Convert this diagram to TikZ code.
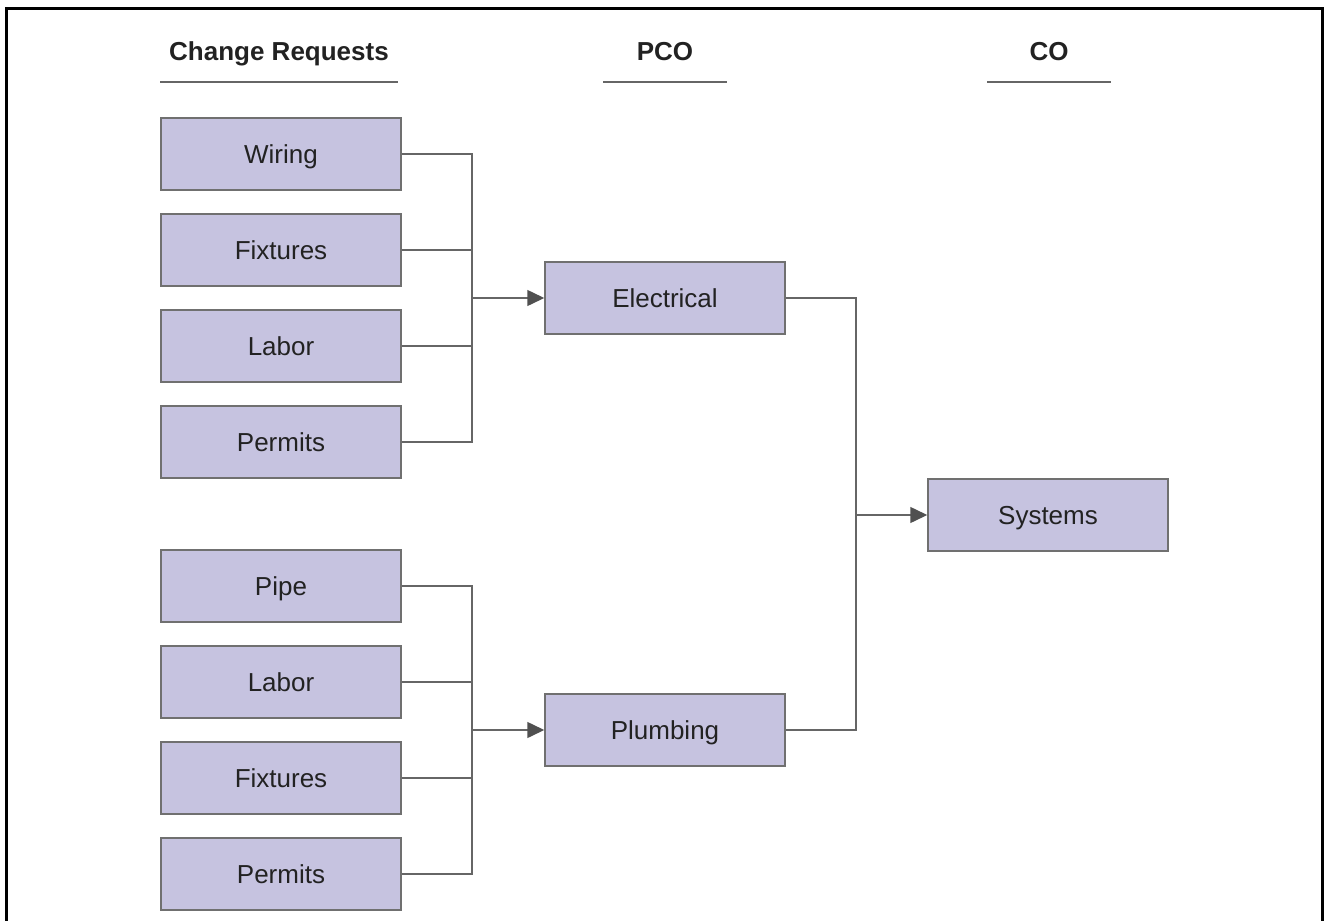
\documentclass[tikz,border=0pt]{standalone}
\usepackage{fontspec}
\setmainfont{Liberation Sans}
\usetikzlibrary{arrows.meta}
\definecolor{boxfill}{HTML}{C6C3E0}
\definecolor{boxline}{HTML}{707070}
\definecolor{conn}{HTML}{666666}
\definecolor{tip}{HTML}{505050}
\definecolor{txt}{HTML}{222222}
\tikzset{
  crbox/.style={rectangle, draw=boxline, line width=1.5pt, fill=boxfill,
    minimum width=240pt, minimum height=72pt, inner sep=0pt,
    text height=18.6pt, text depth=0pt,
    font=\fontsize{26}{31}\selectfont, text=txt},
  head/.style={font=\bfseries\fontsize{26}{31}\selectfont, text=txt, inner sep=0pt,
    text height=18.6pt, text depth=0pt},
  conline/.style={draw=conn, line width=1.5pt},
  conarrow/.style={draw=conn, line width=1.5pt, -{Triangle[length=17pt,width=16pt,fill=tip,color=tip]}},
  rule/.style={draw=conn, line width=1.5pt}
}
\begin{document}
\begin{tikzpicture}[x=1pt,y=-1pt]
\useasboundingbox (0,0) rectangle (1326,921);
\draw[line width=3pt] (6,921) -- (6,8) -- (1322,8) -- (1322,921);
% headers
\node[head] (h1) at (279,51) {Change Requests};
\node[head] (h2) at (665,51) {PCO};
\node[head] (h3) at (1049,51) {CO};
\draw[rule] (160,82) -- (398,82);
\draw[rule] (603,82) -- (727,82);
\draw[rule] (987,82) -- (1111,82);
% change requests
\node[crbox] (a1) at (281,154) {Wiring};
\node[crbox] (a2) at (281,250) {Fixtures};
\node[crbox] (a3) at (281,346) {Labor};
\node[crbox] (a4) at (281,442) {Permits};
\node[crbox] (b1) at (281,586) {Pipe};
\node[crbox] (b2) at (281,682) {Labor};
\node[crbox] (b3) at (281,778) {Fixtures};
\node[crbox] (b4) at (281,874) {Permits};
% PCO
\node[crbox] (elec) at (665,298) {Electrical};
\node[crbox] (plumb) at (665,730) {Plumbing};
% CO
\node[crbox] (sys) at (1048,515) {Systems};
% junctions
\coordinate (ja) at (472,298);
\coordinate (jb) at (472,730);
\coordinate (jc) at (856,515);
\foreach \n in {a1,a2,a3,a4} \draw[conline] (\n.east) -| (ja);
\foreach \n in {b1,b2,b3,b4} \draw[conline] (\n.east) -| (jb);
\draw[conarrow] (ja) -- (elec.west);
\draw[conarrow] (jb) -- (plumb.west);
\draw[conline] (elec.east) -| (jc);
\draw[conline] (plumb.east) -| (jc);
\draw[conarrow] (jc) -- (sys.west);
\end{tikzpicture}
\end{document}
